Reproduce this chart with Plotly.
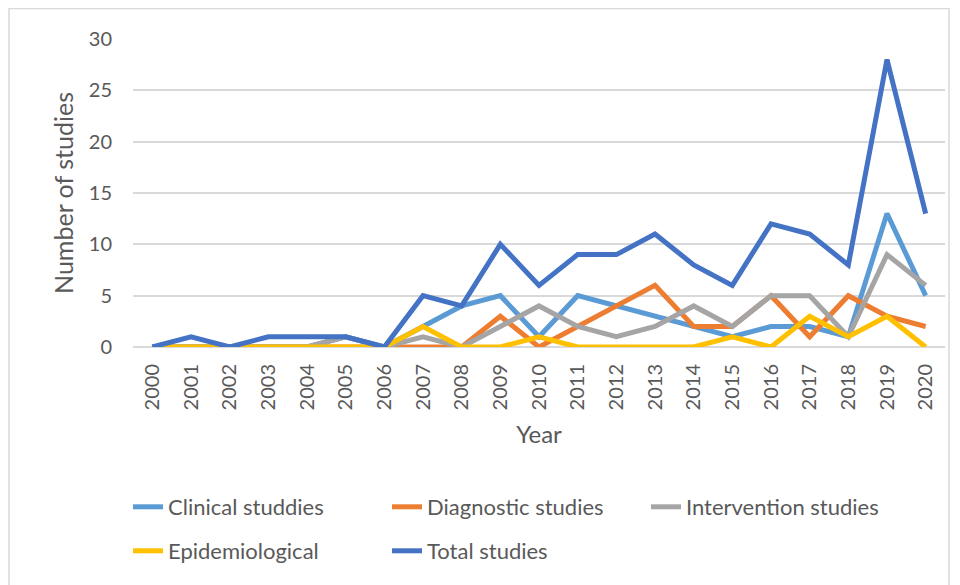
import plotly.graph_objects as go

years = [str(y) for y in range(2000, 2021)]
clinical = [0, 0, 0, 0, 0, 1, 0, 2, 4, 5, 1, 5, 4, 3, 2, 1, 2, 2, 1, 13, 5]
diagnostic = [0, 0, 0, 0, 0, 0, 0, 0, 0, 3, 0, 2, 4, 6, 2, 2, 5, 1, 5, 3, 2]
intervention = [0, 0, 0, 0, 0, 1, 0, 1, 0, 2, 4, 2, 1, 2, 4, 2, 5, 5, 1, 9, 6]
epidemiological = [0, 0, 0, 0, 0, 0, 0, 2, 0, 0, 1, 0, 0, 0, 0, 1, 0, 3, 1, 3, 0]
total = [0, 1, 0, 1, 1, 1, 0, 5, 4, 10, 6, 9, 9, 11, 8, 6, 12, 11, 8, 28, 13]

series = [
    ("Clinical studdies", clinical, "#5B9BD5", "legend"),
    ("Diagnostic studies", diagnostic, "#ED7D31", "legend"),
    ("Intervention studies", intervention, "#A5A5A5", "legend"),
    ("Epidemiological", epidemiological, "#FFC000", "legend2"),
    ("Total studies", total, "#4472C4", "legend2"),
]

FONT = "Lato, 'Open Sans', sans-serif"
TXT = "#595959"

fig = go.Figure()
for name, vals, col, lg in series:
    fig.add_trace(go.Scatter(x=years, y=vals, name=name, mode="lines", legend=lg,
                             line=dict(color=col, width=5)))

# page has an 8px body margin; figure coordinates = page coordinates - 8
W, H = 960, 585
L, R, T, B = 125, 23, 31, 246
pw, ph = W - L - R, H - T - B

def px(x):
    return (x - L) / pw

def py(y):
    return (H - B - y) / ph

fig.add_shape(type="rect", xref="paper", yref="paper",
              x0=px(1), x1=px(941), y0=py(0.5), y1=py(600),
              line=dict(color="#d9d9d9", width=1.5), layer="below")

leg_common = dict(orientation="h", xanchor="left", yanchor="middle",
                  entrywidth=214, entrywidthmode="pixels",
                  font=dict(size=22, color=TXT), bgcolor="rgba(0,0,0,0)")

fig.update_layout(
    width=W, height=H,
    margin=dict(l=L, r=R, t=T, b=B, autoexpand=False),
    paper_bgcolor="white", plot_bgcolor="white",
    font=dict(family=FONT, size=20, color=TXT),
    showlegend=True,
    legend=dict(x=px(120), y=py(499), **leg_common),
    legend2=dict(x=px(120), y=py(543), **leg_common),
    xaxis=dict(type="category", range=[-0.5, 20.5], tickangle=-90,
               showgrid=False, showline=False, ticks="", ticklabelstandoff=12,
               tickfont=dict(size=20, color=TXT),
               title=dict(text="Year", font=dict(size=24, color=TXT), standoff=16)),
    yaxis=dict(range=[0, 30], dtick=5, showgrid=True, gridcolor="#d9d9d9", gridwidth=1.5,
               zeroline=True, zerolinecolor="#d9d9d9", zerolinewidth=1.5,
               showline=False, ticks="", ticklabelstandoff=20,
               tickfont=dict(size=20, color=TXT),
               title=dict(text="Number of studies", font=dict(size=25, color=TXT), standoff=8)),
)

fig.write_html("out.html")
